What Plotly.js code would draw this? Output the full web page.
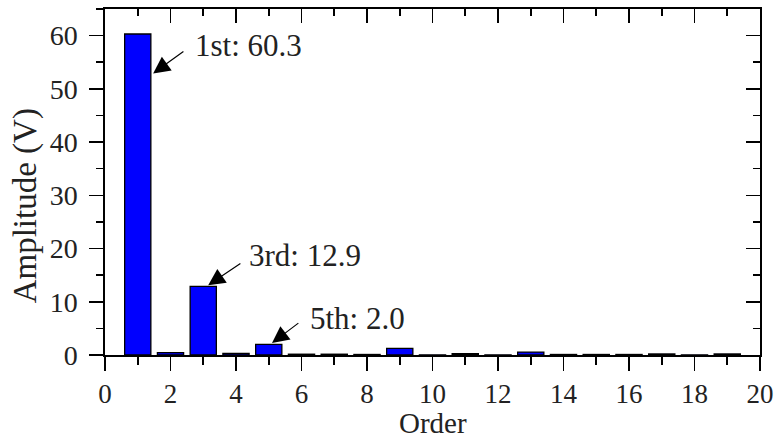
<!DOCTYPE html>
<html>
<head>
<meta charset="utf-8">
<script src="https://cdn.plot.ly/plotly-3.0.1.min.js"></script>
<style>html,body{margin:0;padding:0;background:#fff;}#chart{width:776px;height:441px;}</style>
</head>
<body>
<div id="chart"></div>
<script>
// Data
var orders = [1,2,3,4,5,6,7,8,9,10,11,12,13,14,15,16,17,18,19];
var amplitudes = [60.3, 0.45, 12.9, 0.3, 2.0, 0.15, 0.15, 0.1, 1.25, 0.02, 0.25, 0.02, 0.55, 0.1, 0.1, 0.1, 0.2, 0.02, 0.2];
var xTickVals = [0,2,4,6,8,10,12,14,16,18,20];
var yTickVals = [0,10,20,30,40,50,60];
var labelTexts = ["1st: 60.3", "3rd: 12.9", "5th: 2.0"];
var xTitle = "Order";
var yTitle = "Amplitude (V)";

var fontFam = "'Liberation Serif', 'Times New Roman', Times, serif";
var txtColor = "#222";

var bars = {
  type: "bar",
  x: orders,
  y: amplitudes,
  width: 0.8,
  marker: {color: "#0000ff", line: {color: "#000", width: 1.3}},
  hoverinfo: "x+y",
  showlegend: false
};
var dummy = {
  type: "scatter", mode: "markers", x: [null], y: [null],
  xaxis: "x2", yaxis: "y2", hoverinfo: "skip", showlegend: false
};

var axCommon = {
  showgrid: false, zeroline: false, showline: true,
  linecolor: "#000", linewidth: 1.6,
  tickcolor: "#000", tickwidth: 1.6, ticklen: 14
};

function merge(a, b){ var o = {}; for (var k in a) o[k]=a[k]; for (var k2 in b) o[k2]=b[k2]; return o; }

var arrowStyle = {axref: "x", ayref: "y", xref: "x", yref: "y", text: "", showarrow: true,
  arrowhead: 2, arrowsize: 2.8, arrowwidth: 1.2, arrowcolor: "#000", standoff: 0};
var labelStyle = {xref: "x", yref: "y", showarrow: false, xanchor: "left", yanchor: "middle",
  font: {family: fontFam, size: 31, color: txtColor}};

var layout = {
  width: 776, height: 441,
  margin: {l: 105, r: 16, t: 9, b: 86},
  paper_bgcolor: "#fff", plot_bgcolor: "#fff",
  font: {family: fontFam, color: txtColor, size: 27},
  bargap: 0,
  xaxis: merge(axCommon, {
    range: [0, 20], tickmode: "array", tickvals: xTickVals, ticks: "outside",
    minor: {dtick: 1, ticks: "outside", ticklen: 8, tickwidth: 1.6, tickcolor: "#000"},
    tickfont: {family: fontFam, size: 27, color: txtColor}
  }),
  yaxis: merge(axCommon, {
    range: [0, 65], tickmode: "array", tickvals: yTickVals, ticks: "outside",
    minor: {dtick: 5, ticks: "outside", ticklen: 7, tickwidth: 1.6, tickcolor: "#000"},
    tickfont: {family: fontFam, size: 28, color: txtColor},
    ticklabelstandoff: 6
  }),
  xaxis2: merge(axCommon, {
    overlaying: "x", side: "top", anchor: "y2",
    range: [0, 20], tickmode: "array", tickvals: xTickVals, ticks: "inside",
    minor: {dtick: 1, ticks: "inside", ticklen: 7, tickwidth: 1.6, tickcolor: "#000"},
    showticklabels: false
  }),
  yaxis2: merge(axCommon, {
    overlaying: "y", side: "right", anchor: "x2",
    range: [0, 65], tickmode: "array", tickvals: yTickVals, ticks: "inside",
    minor: {dtick: 5, ticks: "inside", ticklen: 7, tickwidth: 1.6, tickcolor: "#000"},
    showticklabels: false
  }),
  annotations: [
    merge(arrowStyle, {x: 1.47, y: 52.9, ax: 2.44, ay: 57.2}),
    merge(arrowStyle, {x: 3.15, y: 13.1, ax: 4.18, ay: 17.4}),
    merge(arrowStyle, {x: 5.10, y: 2.25, ax: 5.95, ay: 6.2}),
    merge(labelStyle, {x: 2.69, y: 58.1, text: labelTexts[0]}),
    merge(labelStyle, {x: 4.34, y: 18.75, text: labelTexts[1]}),
    merge(labelStyle, {x: 6.2, y: 6.94, text: labelTexts[2]}),
    // axis titles
    {xref: "paper", yref: "paper", x: 0.5, y: -0.197, text: xTitle, borderpad: 0,
     showarrow: false, xanchor: "center", yanchor: "middle",
     font: {family: fontFam, size: 29, color: txtColor}},
    {xref: "paper", yref: "paper", x: -0.122, y: 0.43, text: yTitle, textangle: -90,
     showarrow: false, xanchor: "center", yanchor: "middle",
     font: {family: fontFam, size: 33, color: txtColor}}
  ]
};

Plotly.newPlot("chart", [bars, dummy], layout, {displayModeBar: false, staticPlot: true});
</script>
</body>
</html>
